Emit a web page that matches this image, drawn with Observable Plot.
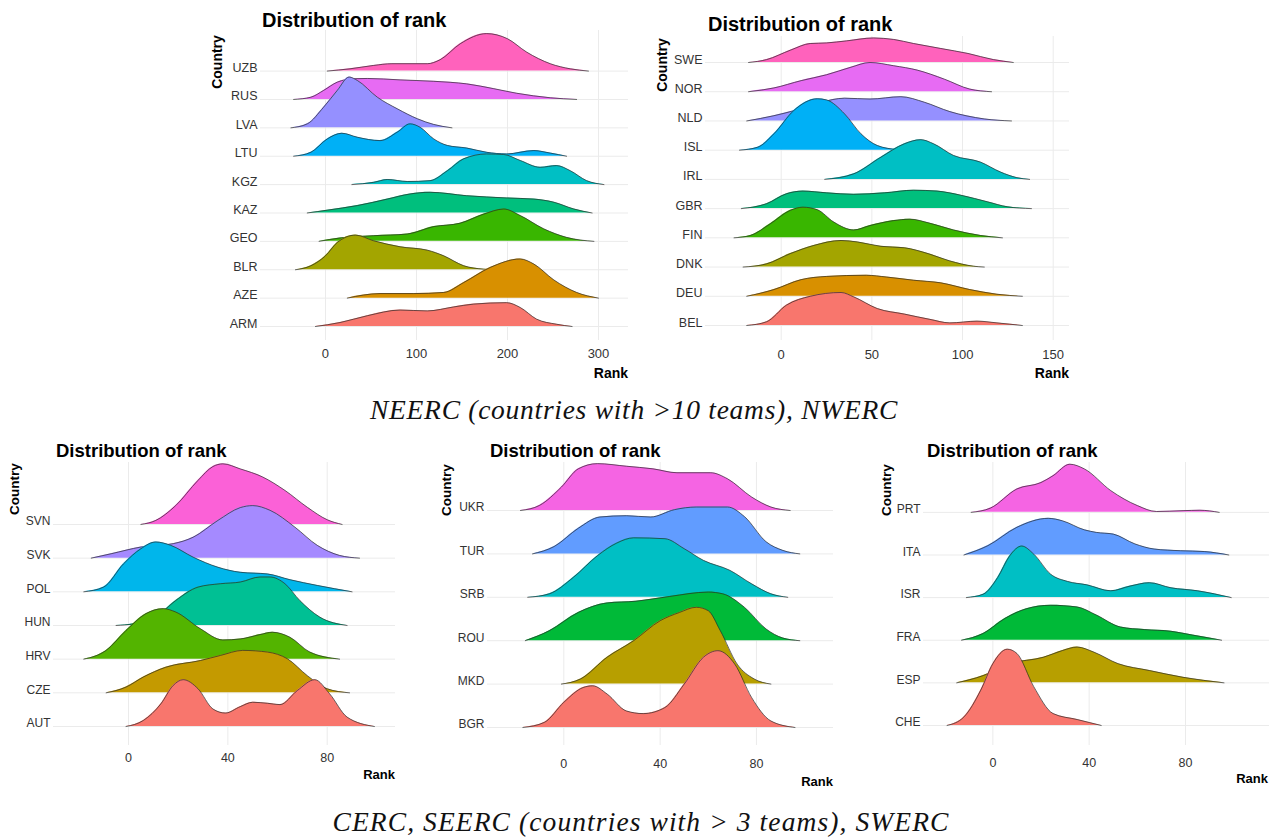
<!DOCTYPE html>
<html><head><meta charset="utf-8">
<script src="https://cdn.jsdelivr.net/npm/d3@7"></script>
<script src="https://cdn.jsdelivr.net/npm/@observablehq/plot@0.6"></script>
<style>
body{margin:0;background:#fff;overflow:hidden;font-family:"Liberation Sans",Arial,sans-serif}
#page{position:relative;width:1269px;height:839px;overflow:hidden;background:#fff}
.lbl{position:absolute;white-space:nowrap;line-height:1}
.panel{position:absolute}
</style></head>
<body><div id="page"></div>
<script>
// ---------- DATA: NEERC ----------
const neercCountries = ["ARM","AZE","BLR","GEO","KAZ","KGZ","LTU","LVA","RUS","UZB"];
const neercTicks = [0,100,200,300];
const ARM = [[-11,0],[16,0.14],[46,0.38],[82,0.58],[112,0.55],[141,0.69],[163,0.79],[199,0.84],[214,0.67],[232,0.26],[254,0.08],[271,0]];
const AZE = [[24,0],[60,0.16],[97,0.16],[130,0.2],[152,0.55],[181,1.08],[214,1.38],[229,1.2],[251,0.64],[276,0.2],[300,0]];
const BLR = [[-33,0],[-16,0.14],[0,0.49],[13,0.96],[33,1.22],[53,1.02],[82,0.81],[112,0.69],[130,0.49],[152,0.14],[174,0.02],[185,0]];
const GEO = [[-7,0],[16,0.12],[53,0.2],[90,0.26],[119,0.52],[148,0.64],[174,0.96],[196,1.14],[214,0.91],[240,0.44],[265,0.14],[295,0]];
const KAZ = [[-20,0],[2,0.1],[35,0.26],[68,0.49],[93,0.67],[115,0.73],[155,0.61],[199,0.53],[229,0.49],[251,0.38],[273,0.14],[293,0]];
const KGZ = [[29,0],[53,0.08],[68,0.18],[90,0.11],[115,0.14],[134,0.49],[152,0.91],[177,1.08],[196,1.06],[214,0.85],[236,0.61],[254,0.67],[269,0.49],[287,0.14],[306,0]];
const LTU = [[-35,0],[-16,0.14],[2,0.61],[18,0.81],[35,0.67],[60,0.55],[79,0.85],[93,1.14],[104,1.02],[119,0.61],[134,0.38],[155,0.29],[177,0.14],[199,0.08],[229,0.2],[247,0.11],[265,0]];
const LVA = [[-38,0],[-20,0.14],[-2,0.73],[13,1.32],[26,1.79],[35,1.67],[57,1.08],[79,0.67],[101,0.32],[119,0.12],[139,0]];
const RUS = [[-35,0],[-16,0.08],[-2,0.32],[13,0.61],[31,0.73],[46,0.74],[82,0.69],[119,0.64],[155,0.55],[185,0.38],[210,0.22],[247,0.06],[276,0]];
const UZB = [[2,0],[27,0.08],[53,0.2],[73,0.26],[112,0.26],[126,0.4],[148,0.96],[177,1.32],[200,1.14],[221,0.67],[247,0.26],[269,0.08],[289,0]];

// ---------- DATA: NWERC ----------
const nwercCountries = ["BEL","DEU","DNK","FIN","GBR","IRL","ISL","NLD","NOR","SWE"];
const nwercTicks = [0,50,100,150];
const BEL = [[-19,0],[-8,0.13],[3,0.7],[16,1.0],[33,1.13],[40,0.98],[53,0.58],[68,0.39],[82,0.21],[93,0.09],[108,0.15],[119,0.09],[133,0]];
const DEU = [[-19,0],[-4,0.23],[11,0.57],[25,0.68],[47,0.72],[58,0.66],[73,0.55],[88,0.46],[104,0.23],[119,0.07],[133,0]];
const DNK = [[-21,0],[-8,0.11],[5,0.46],[18,0.74],[33,0.91],[42,0.86],[55,0.71],[68,0.66],[81,0.46],[93,0.21],[106,0.03],[112,0]];
const FIN = [[-26,0],[-17,0.08],[-6,0.48],[5,0.94],[12,1.05],[20,0.96],[29,0.54],[40,0.27],[49,0.42],[62,0.59],[71,0.64],[82,0.5],[95,0.27],[110,0.08],[122,0]];
const GBR = [[-22,0],[-8,0.17],[3,0.51],[12,0.6],[25,0.54],[40,0.49],[57,0.54],[73,0.63],[86,0.6],[99,0.46],[114,0.23],[125,0.06],[138,0]];
const IRL = [[24,0],[40,0.19],[55,0.76],[68,1.22],[77,1.36],[84,1.22],[95,0.82],[110,0.59],[121,0.25],[130,0.06],[137,0]];
const ISL = [[-23,0],[-13,0.1],[-4,0.56],[7,1.36],[20,1.76],[25,1.72],[35,1.24],[44,0.56],[53,0.16],[64,0.02],[70,0]];
const NLD = [[-19,0],[-4,0.18],[7,0.35],[22,0.64],[35,0.78],[49,0.75],[66,0.83],[79,0.64],[93,0.32],[112,0.07],[127,0]];
const NOR = [[-18,0],[-4,0.13],[11,0.38],[25,0.58],[38,0.83],[49,1.0],[62,0.89],[75,0.74],[90,0.43],[104,0.09],[116,0]];
const SWE = [[-18,0],[-8,0.1],[5,0.42],[16,0.65],[25,0.67],[36,0.74],[51,0.84],[62,0.79],[73,0.65],[88,0.48],[103,0.31],[117,0.1],[128,0]];

// ---------- DATA: CERC ----------
const cercCountries = ["AUT","CZE","HRV","HUN","POL","SVK","SVN"];
const cercTicks = [0,40,80];
const AUT = [[-1,0],[6,0.18],[13,0.67],[18,1.22],[22,1.39],[28,1.12],[34,0.52],[39,0.4],[45,0.59],[50,0.72],[56,0.69],[61,0.65],[68,1.07],[75,1.39],[81,0.97],[88,0.28],[99,0]];
const CZE = [[-9,0],[-1,0.17],[6,0.47],[15,0.76],[29,0.96],[37,1.11],[46,1.26],[56,1.21],[64,1.01],[72,0.51],[80,0.12],[89,0]];
const HRV = [[-18,0],[-9,0.26],[-1,0.85],[7,1.35],[14,1.5],[19,1.4],[29,0.9],[38,0.57],[45,0.6],[53,0.73],[58,0.8],[65,0.65],[73,0.21],[85,0]];
const HUN = [[-5,0],[2,0.05],[11,0.25],[19,0.74],[28,1.14],[37,1.24],[45,1.29],[53,1.44],[57,1.44],[63,1.24],[69,0.74],[77,0.25],[88,0]];
const POL = [[-18,0],[-10,0.14],[-2,0.83],[5,1.28],[11,1.48],[17,1.38],[26,1.03],[36,0.73],[45,0.58],[56,0.53],[65,0.36],[76,0.19],[90,0]];
const SVK = [[-15,0],[-7,0.13],[5,0.33],[18,0.43],[26,0.62],[36,1.12],[45,1.5],[50,1.56],[57,1.42],[67,0.92],[76,0.38],[85,0.08],[93,0]];
const SVN = [[5,0],[11,0.12],[19,0.56],[28,1.31],[34,1.72],[38,1.8],[45,1.65],[54,1.41],[63,1.01],[72,0.51],[80,0.14],[86,0]];

// ---------- DATA: SEERC ----------
const seercCountries = ["BGR","MKD","ROU","SRB","TUR","UKR"];
const seercTicks = [0,40,80];
const BGR = [[-17,0],[-8,0.12],[0,0.58],[8,0.92],[12,0.96],[18,0.77],[26,0.38],[33,0.32],[42,0.46],[50,1.0],[58,1.62],[64,1.77],[71,1.46],[78,0.69],[86,0.15],[96,0]];
const MKD = [[-1,0],[7,0.12],[18,0.62],[29,1.0],[40,1.46],[48,1.65],[55,1.77],[60,1.69],[65,1.23],[72,0.46],[79,0.12],[86,0]];
const ROU = [[-16,0],[-6,0.23],[6,0.65],[18,0.87],[30,0.91],[44,1.02],[60,1.12],[66,1.08],[75,0.77],[84,0.27],[91,0.06],[98,0]];
const SRB = [[-15,0],[-6,0.08],[4,0.46],[14,0.96],[22,1.25],[29,1.37],[42,1.35],[50,1.12],[58,0.85],[69,0.62],[78,0.31],[86,0.08],[93,0]];
const TUR = [[-13,0],[-4,0.17],[6,0.59],[15,0.85],[26,0.88],[36,0.85],[46,1.02],[55,1.08],[68,1.08],[75,0.86],[84,0.28],[91,0.08],[98,0]];
const UKR = [[-18,0],[-10,0.12],[-1,0.54],[6,0.96],[14,1.08],[26,1.02],[37,0.96],[47,0.87],[61,0.87],[68,0.73],[78,0.31],[86,0.08],[94,0]];

// ---------- DATA: SWERC ----------
const swercCountries = ["CHE","ESP","FRA","ISR","ITA","PRT"];
const swercTicks = [0,40,80];
const CHE = [[-19,0],[-12,0.2],[-5,0.83],[0,1.45],[6,1.79],[10,1.69],[17,0.91],[25,0.28],[35,0.14],[45,0]];
const ESP = [[-15,0],[-4,0.17],[7,0.45],[21,0.6],[29,0.76],[35,0.84],[42,0.72],[52,0.45],[65,0.29],[79,0.13],[96,0]];
const FRA = [[-13,0],[-4,0.16],[5,0.51],[14,0.74],[24,0.82],[35,0.78],[43,0.59],[53,0.31],[63,0.25],[74,0.21],[83,0.12],[95,0]];
const ISR = [[-11,0],[-4,0.08],[2,0.47],[7,0.98],[12,1.21],[17,1.02],[24,0.55],[31,0.38],[39,0.3],[49,0.16],[57,0.27],[65,0.35],[74,0.23],[85,0.16],[99,0]];
const ITA = [[-12,0],[-2,0.22],[10,0.65],[23,0.86],[29,0.8],[38,0.59],[43,0.53],[50,0.49],[59,0.26],[67,0.14],[78,0.1],[88,0.08],[98,0]];
const PRT = [[-9,0],[-1,0.1],[10,0.55],[20,0.7],[25,0.86],[32,1.13],[38,1.02],[49,0.51],[60,0.16],[68,0.02],[79,0.04],[86,0.05],[94,0]];

// ---------- TEXT ----------
const panelTitle = "Distribution of rank";
const yTitle = "Country";
const xTitle = "Rank";
const caption1 = "NEERC (countries with >10 teams), NWERC";
const caption2 = "CERC, SEERC (countries with > 3 teams), SWERC";

// ---------- PALETTES (ggplot hue) ----------
const hue10 = ["#F8766D","#D89000","#A3A500","#39B600","#00BF7D","#00BFC4","#00B0F6","#9590FF","#E76BF3","#FF62BC"];
const hue7 = ["#F8766D","#C49A00","#53B400","#00C094","#00B6EB","#A58AFF","#FB61D7"];
const hue6 = ["#F8766D","#B79F00","#00BA38","#00BFC4","#619CFF","#F564E3"];

const page = document.getElementById("page");

function addText(txt, x, y, o = {}) {
  const d = document.createElement("div");
  d.className = "lbl";
  d.textContent = txt;
  d.style.left = x + "px";
  d.style.top = y + "px";
  d.style.fontSize = (o.size || 12) + "px";
  d.style.fontWeight = o.weight || "normal";
  d.style.fontStyle = o.style || "normal";
  d.style.fontFamily = o.family || '"Liberation Sans", Arial, sans-serif';
  d.style.color = o.color || "#000";
  const a = o.anchor || "start";
  const tx = a === "start" ? "0" : a === "end" ? "-100%" : "-50%";
  d.style.transform = `translate(${tx},-50%)` + (o.rotate ? ` rotate(${o.rotate}deg)` : "");
  page.appendChild(d);
  return d;
}

function ridge(cfg) {
  const n = cfg.countries.length;
  const marks = [
    Plot.gridX(cfg.ticks, {stroke: "#ebebeb", strokeOpacity: 1, strokeWidth: 1}),
    Plot.ruleY(d3.range(n), {stroke: "#ebebeb", strokeWidth: 1})
  ];
  for (let i = n - 1; i >= 0; i--) {
    const pts = cfg.series[i].map(([x, h]) => ({x, y1: i, y2: i + h}));
    marks.push(Plot.areaY(pts, {x: "x", y1: "y1", y2: "y2", fill: cfg.colors[i], curve: "monotone-x"}));
    marks.push(Plot.lineY(pts, {x: "x", y: "y2", stroke: "#2b2b2b", strokeWidth: 0.7, curve: "monotone-x"}));
  }
  marks.push(Plot.axisX({ticks: cfg.ticks, tickSize: 0, tickPadding: cfg.tickPad, fontSize: cfg.tickFs, label: null}));
  marks.push(Plot.axisY({ticks: d3.range(n), tickFormat: i => cfg.countries[i], tickSize: 0, tickPadding: 3, fontSize: cfg.rowFs, dy: -3, label: null}));
  const svg = Plot.plot({
    width: cfg.w, height: cfg.h,
    marginLeft: cfg.mL, marginRight: cfg.mR, marginTop: cfg.mT, marginBottom: cfg.mB,
    x: {domain: cfg.xDomain, label: null},
    y: {domain: cfg.yDomain, label: null},
    style: {fontFamily: '"Liberation Sans", Arial, sans-serif', color: "#333", background: "none", overflow: "visible"},
    marks
  });
  const wrap = document.createElement("div");
  wrap.className = "panel";
  wrap.style.left = cfg.left + "px";
  wrap.style.top = cfg.top + "px";
  wrap.appendChild(svg);
  page.appendChild(wrap);
}

// NEERC panel
ridge({countries: neercCountries, series: [ARM,AZE,BLR,GEO,KAZ,KGZ,LTU,LVA,RUS,UZB], colors: hue10, ticks: neercTicks,
  left: 200, top: 0, w: 440, h: 390, mL: 60, mR: 12, mT: 30, mB: 50,
  xDomain: [-71.4, 333.0], yDomain: [-0.493, 10.43], tickPad: 8, tickFs: 13, rowFs: 12.5});
// NWERC panel
ridge({countries: nwercCountries, series: [BEL,DEU,DNK,FIN,GBR,IRL,ISL,NLD,NOR,SWE], colors: hue10, ticks: nwercTicks,
  left: 640, top: 0, w: 440, h: 390, mL: 65, mR: 11, mT: 36, mB: 50,
  xDomain: [-41.75, 159.0], yDomain: [-0.513, 9.89], tickPad: 9, tickFs: 13, rowFs: 12.5});
// CERC panel
ridge({countries: cercCountries, series: [AUT,CZE,HRV,HUN,POL,SVK,SVN], colors: hue7, ticks: cercTicks,
  left: 0, top: 430, w: 420, h: 360, mL: 53, mR: 25, mT: 32, mB: 45,
  xDomain: [-30.2, 107.5], yDomain: [-0.564, 7.84], tickPad: 7.5, tickFs: 12.5, rowFs: 12});
// SEERC panel
ridge({countries: seercCountries, series: [BGR,MKD,ROU,SRB,TUR,UKR], colors: hue6, ticks: seercTicks,
  left: 420, top: 430, w: 420, h: 360, mL: 67, mR: 7, mT: 32, mB: 45,
  xDomain: [-31.7, 112.0], yDomain: [-0.415, 6.106], tickPad: 13.5, tickFs: 12.5, rowFs: 12});
// SWERC panel
ridge({countries: swercCountries, series: [CHE,ESP,FRA,ISR,ITA,PRT], colors: hue6, ticks: swercTicks,
  left: 850, top: 430, w: 419, h: 360, mL: 73, mR: 0, mT: 32, mB: 45,
  xDomain: [-28.8, 114.9], yDomain: [-0.47, 6.17], tickPad: 12.5, tickFs: 12.5, rowFs: 12});

// Titles and axis titles
const titles = [[262, 20, 20], [708, 24, 20], [56, 451, 18.5], [490, 451, 18.5], [927, 451, 18.5]];
titles.forEach(([x, y, s]) => addText(panelTitle, x, y, {size: s, weight: "bold"}));
const yTitles = [[217, 62, 14], [662, 65, 14], [15, 489, 13.5], [447, 490, 13.5], [887, 490, 13.5]];
yTitles.forEach(([x, y, s]) => addText(yTitle, x, y, {size: s, weight: "bold", anchor: "middle", rotate: -90}));
const xTitles = [[628, 373, 14], [1069, 373, 14], [395, 774, 13], [833, 781, 13], [1268, 778, 13]];
xTitles.forEach(([x, y, s]) => addText(xTitle, x, y, {size: s, weight: "bold", anchor: "end"}));

// Captions
function caption(txt, cx, cy, target) {
  const el = addText(txt, cx, cy, {size: 27.5, style: "italic", family: '"Liberation Serif", "Times New Roman", serif', anchor: "middle", color: "#111"});
  const w = el.getBoundingClientRect().width;
  el.style.letterSpacing = ((target - w) / txt.length) + "px";
}
caption(caption1, 634, 410, 528);
caption(caption2, 641, 822, 617);
</script>
</body></html>
